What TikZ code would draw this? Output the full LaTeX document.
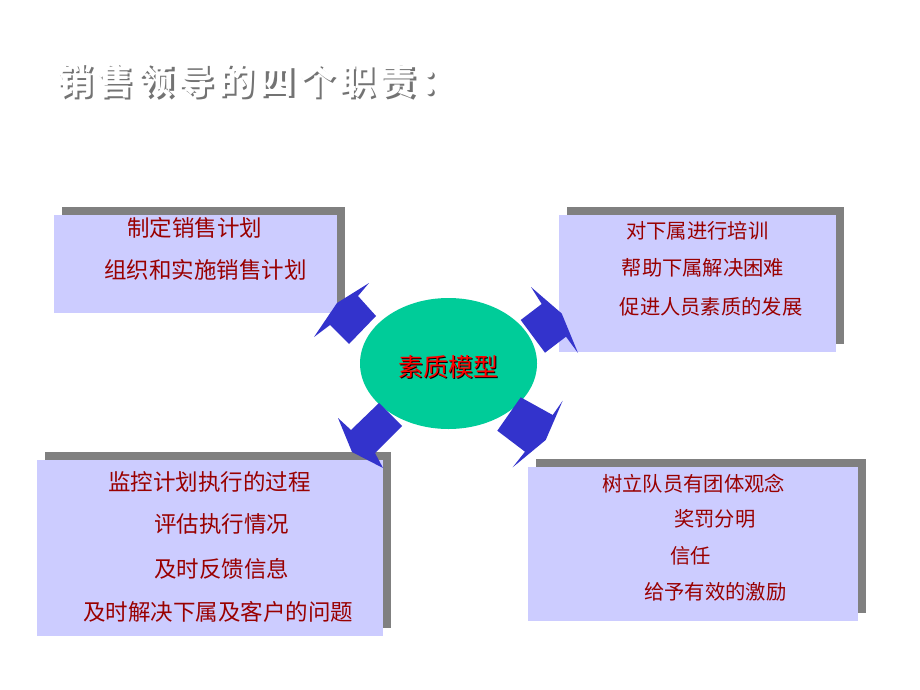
\documentclass[tikz,border=0pt]{standalone}
\usepackage{fontspec}
\newfontfamily\cjk{Noto Sans CJK SC}
\newfontfamily\cjktitle[LetterSpace=12]{Noto Sans CJK SC}
\usetikzlibrary{shapes.geometric,shadows}
\definecolor{boxfill}{RGB}{204,204,255}
\definecolor{shadowgray}{RGB}{128,128,128}
\definecolor{arrowblue}{RGB}{51,51,204}
\definecolor{ellgreen}{RGB}{0,204,153}
\definecolor{txtred}{RGB}{153,0,0}
\begin{document}
\begin{tikzpicture}[x=1pt,y=-1pt,
  front/.style={fill=boxfill, inner sep=0, draw=none,
    drop shadow={shadow xshift=8pt, shadow yshift=8pt, fill=shadowgray, opacity=1}},
  txtbig/.style={anchor=west, inner sep=0, text=txtred, font=\cjk\fontsize{22.5}{27}\selectfont},
  txtsmall/.style={anchor=west, inner sep=0, text=txtred, font=\cjk\fontsize{20.3}{24}\selectfont},
  blockarrow/.style={fill=arrowblue, draw=none},
  titlefont/.style={inner sep=0, anchor=west, font=\cjktitle\bfseries\fontsize{36}{44}\selectfont},
  corefont/.style={inner sep=0, font=\cjk\fontsize{25}{30}\selectfont}]
\fill[white] (0,0) rectangle (920,690);
% title
\node[titlefont, text=black!55] (titleshadow) at (59.5,83) {销售领导的四个职责：};
\node[titlefont, text=white] (title) at (57,80.5) {销售领导的四个职责：};
% boxes
\node[front, minimum width=283, minimum height=98] (b1) at (195.5,264) {};
\node[front, minimum width=277, minimum height=137] (b2) at (697.5,283.5) {};
\node[front, minimum width=346, minimum height=176] (b3) at (210,548) {};
\node[front, minimum width=330, minimum height=154] (b4) at (693,544) {};
% box texts
\node[txtbig] (t11) at (127,227.5) {制定销售计划};
\node[txtbig] (t12) at (104,270) {组织和实施销售计划};
\node[txtsmall] (t21) at (626,230.5) {对下属进行培训};
\node[txtsmall] (t22) at (621.5,267.5) {帮助下属解决困难};
\node[txtsmall] (t23) at (619.5,306.5) {促进人员素质的发展};
\node[txtbig] (t31) at (108,481.5) {监控计划执行的过程};
\node[txtbig] (t32) at (154,524) {评估执行情况};
\node[txtbig] (t33) at (154,568.5) {及时反馈信息};
\node[txtbig] (t34) at (83,611.5) {及时解决下属及客户的问题};
\node[txtsmall] (t41) at (602,483.5) {树立队员有团体观念};
\node[txtsmall] (t42) at (674,518.5) {奖罚分明};
\node[txtsmall] (t43) at (670,555.5) {信任};
\node[txtsmall] (t44) at (644,592) {给予有效的激励};
% core ellipse
\node[ellipse, fill=ellgreen, inner sep=0, minimum width=177, minimum height=131] (core) at (448.5,363.5) {};
\node[corefont, text=black] (coreshadow) at (449.6,367.6) {素质模型};
\node[corefont, text=red] (coretext) at (448.5,366.5) {素质模型};
% block arrows
\fill[blockarrow] (369,283) -- (358,296) -- (376,316) -- (349,344) -- (330,325) -- (314,337) -- (337,303) -- cycle;
\fill[blockarrow] (531,287) -- (541.7,304) -- (520.7,320) -- (545,352.7) -- (566,336.7) -- (578,353) -- (561.7,313.5) -- cycle;
\fill[blockarrow] (338,418) -- (351,430) -- (379,403) -- (402,426) -- (375,453) -- (383,468) -- (352,452) -- cycle;
\fill[blockarrow] (562.7,400.7) -- (552.7,415) -- (520.7,397.3) -- (497.3,430.7) -- (525,451.7) -- (512.7,467.3) -- (545.7,440) -- cycle;
\end{tikzpicture}
\end{document}
